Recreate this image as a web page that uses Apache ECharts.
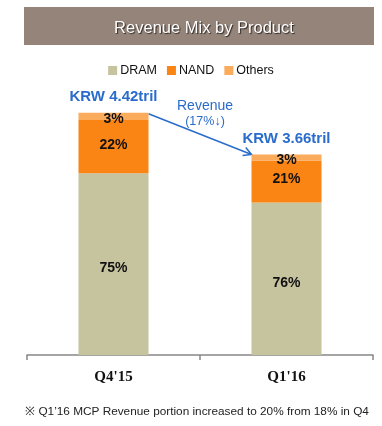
<!DOCTYPE html>
<html><head><meta charset="utf-8">
<script src="https://cdn.jsdelivr.net/npm/echarts@6/dist/echarts.min.js"></script>
<style>html,body{margin:0;padding:0;background:#fff}#c{width:382px;height:426px}</style>
</head><body><div id="c"></div>
<script>
const categories = ["Q4'15", "Q1'16"];
const revenue = [4.42, 3.66];
const revenueLabels = ['KRW 4.42tril', 'KRW 3.66tril'];
const dramPct = [75, 76];
const nandPct = [22, 21];
const othersPct = [3, 3];
const seriesNames = ['DRAM', 'NAND', 'Others'];
const colors = ['#c6c39f', '#fa8414', '#fbab5c'];

const pcts = [dramPct, nandPct, othersPct];
const chart = echarts.init(document.getElementById('c'));
const font = 'Liberation Sans, Arial, sans-serif';
const BW = 70;

const series = pcts.map((p, si) => ({
  name: seriesNames[si], type: 'bar', stack: 'rev', barWidth: BW,
  itemStyle: { color: colors[si] },
  data: p.map((v, i) => ({ value: revenue[i] * v / 100, pct: v })),
  label: { show: true, position: 'inside', fontFamily: font, fontWeight: 'bold', fontSize: 14, color: '#111',
    offset: si === 2 ? [0, 3] : (si === 0 ? [0, 4] : [0, -2]),
    formatter: prm => prm.data.pct + '%' }
}));
series.push({
  name: 'total', type: 'bar', stack: 'rev', barWidth: BW, data: revenue.map(() => 0),
  itemStyle: { color: 'transparent' },
  label: { show: true, position: 'top', distance: 8, fontFamily: font, fontWeight: 'bold', fontSize: 15, color: '#2a6ccc',
    formatter: prm => revenueLabels[prm.dataIndex] },
  tooltip: { show: false }
});

chart.setOption({
  animation: false,
  title: [
    { text: 'Revenue Mix by Product', left: 199, top: 15, textAlign: 'center',
      textStyle: { color: '#fff', fontSize: 16.5, fontWeight: 'normal', fontFamily: font,
        textShadowColor: 'rgba(0,0,0,0.7)', textShadowBlur: 1, textShadowOffsetX: 1, textShadowOffsetY: 1 } },
    { text: '※ Q1\u201916 MCP Revenue portion increased to 20% from 18% in Q4', left: 192, top: 401, textAlign: 'center',
      textStyle: { color: '#222', fontSize: 11.8, fontWeight: 'normal', fontFamily: font } }
  ],
  legend: {
    data: seriesNames, top: 59, left: 'center', itemWidth: 9, itemHeight: 9, itemGap: 10, icon: 'rect',
    textStyle: { fontFamily: font, fontSize: 12.5, color: '#111', padding: [0, 0, 0, -2] }
  },
  grid: { left: 27, right: 9, top: 81, bottom: 71 },
  xAxis: {
    type: 'category', data: categories,
    axisLine: { lineStyle: { color: '#888', width: 1.5 } },
    axisTick: { show: true, length: 5, lineStyle: { color: '#888', width: 1.5 } },
    axisLabel: { fontFamily: 'Liberation Serif, serif', fontWeight: 'bold', fontSize: 15, color: '#111', margin: 15 }
  },
  yAxis: { type: 'value', min: 0, max: 5, show: false, splitLine: { show: false } },
  series: series
});

const p0 = chart.convertToPixel({ seriesIndex: 0 }, [0, revenue[0]]);
const p1 = chart.convertToPixel({ seriesIndex: 0 }, [1, revenue[1]]);
const x0 = p0[0] + BW / 2, y0 = p0[1] + 1;
const x1 = p1[0] - BW / 2, y1 = p1[1];
const ang = Math.atan2(y1 - y0, x1 - x0);
const ah = 9;
chart.setOption({
  graphic: [
    { type: 'rect', z: -1, shape: { x: 24, y: 7, width: 350, height: 38 }, style: { fill: '#958479' } },
    { type: 'line', shape: { x1: x0, y1: y0, x2: x1, y2: y1 }, style: { stroke: '#2a6ccc', lineWidth: 1.5 } },
    { type: 'polyline', shape: { points: [
        [x1 - ah * Math.cos(ang - 0.5), y1 - ah * Math.sin(ang - 0.5)], [x1, y1],
        [x1 - ah * Math.cos(ang + 0.5), y1 - ah * Math.sin(ang + 0.5)]] },
      style: { stroke: '#2a6ccc', lineWidth: 1.5, fill: null } },
    { type: 'text', x: 205, y: 106, style: { text: 'Revenue', fill: '#2a6ccc', fontSize: 14, fontFamily: font,
        align: 'center', verticalAlign: 'middle' } },
    { type: 'text', x: 205, y: 122, style: { text: '(17%\u2193)', fill: '#2a6ccc', fontSize: 12.5, fontFamily: font,
        align: 'center', verticalAlign: 'middle' } }
  ]
});
</script></body></html>
